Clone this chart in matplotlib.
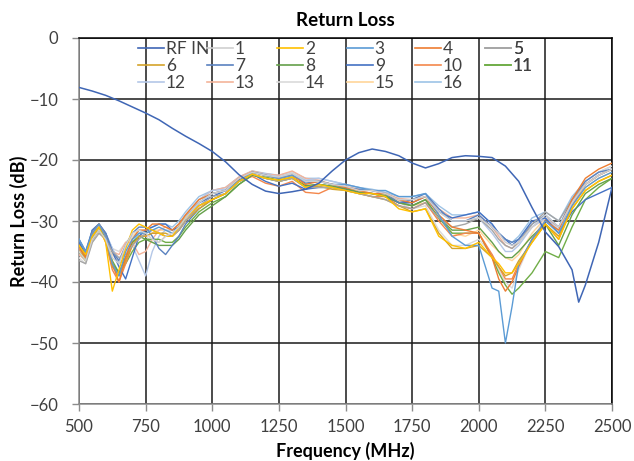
import matplotlib
matplotlib.use("Agg")
import matplotlib.pyplot as plt
from matplotlib.lines import Line2D

plt.rcParams["font.family"] = ["Lato", "DejaVu Sans"]

TEXT = "#404040"
GRID = "#1a1a1a"
AXIS = "#8c8c8c"

# frequency grid for RF IN (MHz) and its return loss (dB)
rf_freq = [500, 550, 600, 650, 700, 750, 800, 850, 900, 950, 1000, 1050, 1100, 1150,
           1200, 1250, 1300, 1350, 1400, 1450, 1500, 1550, 1600, 1650, 1700, 1750,
           1800, 1850, 1900, 1950, 2000, 2050, 2100, 2150, 2200, 2250, 2300, 2350,
           2375, 2400, 2450, 2500]
rf_in = [-8.1, -8.7, -9.4, -10.3, -11.3, -12.3, -13.4, -14.8, -16.1, -17.3, -18.6,
         -20.3, -22.4, -24.0, -25.1, -25.5, -25.2, -24.8, -23.8, -21.8, -20.0, -18.8,
         -18.2, -18.6, -19.3, -20.5, -21.3, -20.6, -19.6, -19.3, -19.4, -19.6, -21.0,
         -23.5, -27.8, -31.8, -34.2, -38.0, -43.3, -40.5, -33.5, -24.5]

# frequency grid for the 16 output ports (MHz)
freq = [500, 525, 550, 575, 600, 625, 650, 675, 700, 725, 750, 775, 800, 825, 850, 875, 900,
        950, 1000, 1050, 1100, 1150, 1200, 1250, 1300, 1350, 1400, 1450, 1500, 1550, 1600,
        1650, 1700, 1750, 1800, 1850, 1900, 1950, 2000, 2050,
        2075, 2100, 2125, 2150, 2200, 2250, 2300, 2350, 2400, 2450, 2500]

p1 = [-35, -36.5, -33, -31.5, -33, -36, -37, -34, -32, -31.5, -32, -33, -33.5, -32.5, -32, -31, -29.5,
      -27, -25.5, -25, -23, -22, -22.5, -22.8, -22.2, -23.5, -23.5, -24, -24.3, -25, -25, -25.5, -26.5, -26.5, -26, -28.5, -30, -30, -29.5, -31,
      -32, -33.5, -34, -33.5, -31, -29, -31, -27, -24, -22.5, -21.5]
p2 = [-34, -35.5, -32.5, -31, -33.5, -41.5, -38, -34.5, -31.5, -30.5, -31, -31.5, -32, -32.5, -32.5, -31, -29.5,
      -27.5, -26.5, -25.5, -23.5, -22.3, -23, -23.3, -22.8, -24.5, -24, -24.5, -25, -25.5, -25.5, -26, -28, -28.5, -28, -32.5, -34, -34.5, -33.5, -36,
      -37, -38.5, -38.5, -37, -33.5, -30.5, -33, -28, -25, -23.5, -22.5]
p3 = [-33, -35, -32, -30.5, -32.5, -37, -39, -35, -33, -32, -32, -31.5, -31, -31.5, -32, -31, -29.5,
      -27, -25.5, -25, -23.5, -22, -22.5, -23, -22.5, -23.5, -23.5, -24, -24, -24.5, -25, -25, -26, -26, -25.5, -29, -32.5, -34, -34, -41,
      -41.5, -50, -44, -37, -33, -30, -32, -27.5, -24.5, -23, -22]
p4 = [-34, -36, -32, -30.5, -32.5, -37, -40, -36, -33, -31.5, -31.5, -30.5, -30.5, -31, -31.5, -30.5, -29,
      -26.5, -25.5, -25, -23, -22, -22.5, -23, -22.5, -24, -23.5, -24, -24.5, -25, -25.5, -25.5, -26.5, -27, -26, -29, -31, -31.5, -32, -36,
      -39.5, -41.5, -40, -37.5, -33, -30, -31.5, -26.5, -23, -21.5, -20.5]
p5 = [-36.5, -37, -33.5, -32, -33, -35, -36, -35.5, -34, -33, -32, -31.5, -32, -32.5, -32.5, -31.5, -30,
      -27.5, -26, -25.5, -23.5, -22.3, -23, -23.5, -23, -24.5, -24.5, -24.5, -25, -25.5, -26, -26.5, -27.5, -28, -27, -29.5, -31, -30.5, -29.5, -31.5,
      -33, -34, -34.5, -33.5, -30.5, -28.5, -30, -26.5, -24, -22.5, -21.5]
p6 = [-35, -36, -33, -31.5, -33, -37.5, -39, -36.5, -34, -32.5, -32.5, -32, -32, -32, -32.5, -31.5, -30,
      -28, -26.5, -25.5, -23.5, -22.3, -23, -23.5, -23, -24.5, -24.3, -24.8, -25, -25.5, -26, -26.5, -27.5, -28.5, -28, -32, -34.5, -34.5, -34, -36,
      -37.5, -39, -38.5, -36.5, -33.5, -30.5, -32.5, -28, -25, -23.5, -22.5]
p7 = [-33, -35, -31.5, -30.5, -32, -35, -36.5, -34, -32, -31, -31, -32.5, -34.5, -35.5, -34, -32.5, -30.5,
      -28, -26.5, -25.5, -23.5, -22, -22.5, -23, -22.5, -23.8, -23.5, -24, -24.5, -24.8, -25, -25.5, -27, -26.5, -25.5, -28, -30, -30, -29, -31,
      -32, -33, -33.5, -33, -30.5, -29, -31, -26.5, -23.5, -22, -21.5]
p8 = [-34, -36, -32.5, -31, -33, -37, -38.5, -36, -33.5, -32.5, -33, -33.5, -34, -34, -34, -33, -31.5,
      -29, -27.5, -26, -24, -22.5, -23, -23.5, -23, -24.2, -24, -24.3, -24.7, -25.3, -25.5, -26, -27, -27.5, -26.5, -29.5, -31.5, -31.5, -31, -33.5,
      -35, -36, -36, -35, -32.5, -30.5, -34, -29, -25.5, -24, -23]
p9 = [-33.5, -35.5, -31.5, -30.5, -32, -35, -37.5, -39.5, -36, -32.5, -31.5, -31, -30.5, -30.5, -31.5, -31, -29.5,
      -27, -26, -25, -23.3, -22.3, -23.5, -24.3, -23.8, -24.8, -24.5, -24.5, -24.8, -25.3, -25.5, -26, -27, -27, -26, -28.5, -29.5, -29, -28.5, -30.5,
      -32, -33, -34, -33, -30, -29.5, -32, -28.5, -26.5, -25.5, -24.5]
p10 = [-34.5, -36, -32.5, -31, -33.5, -38, -40, -37, -34, -32.5, -32.5, -32, -32, -32.5, -32.5, -31.5, -30,
       -27.5, -26.5, -25.5, -23.5, -22.7, -23.8, -24.3, -23.5, -25.3, -25.5, -24.5, -24.8, -25.5, -26, -26, -27.5, -28, -27, -30, -32.5, -32, -32, -35.5,
       -37.5, -39.5, -39.5, -37, -33, -30.5, -33, -27.5, -24, -22.5, -21.5]
p11 = [-35, -36.5, -33, -31.5, -33, -36.5, -38.5, -37, -35, -33.5, -33, -33, -33, -33.5, -33.5, -32.5, -31,
       -28.5, -27, -26, -24, -22.5, -22.8, -23.3, -22.8, -24.3, -24, -24.3, -24.7, -25.3, -25.5, -25.8, -27, -27.5, -26.5, -29.5, -32, -32, -32, -36,
       -38.5, -40.5, -42, -41, -38.5, -35, -36, -31, -26.5, -24.5, -23]
p12 = [-33, -35, -32, -31, -32, -34.5, -36.5, -35, -34, -36.5, -39, -35, -32.5, -31.5, -31.5, -30.5, -29,
       -26.5, -25, -24.8, -23, -22, -22.3, -22.8, -22.3, -23.3, -23, -23.5, -24, -24.5, -25, -25.5, -26.5, -27.5, -26.5, -28.5, -30, -30, -29.5, -32,
       -33.5, -35, -35, -34, -31, -29.5, -31.5, -27, -24, -22.5, -21.5]
p13 = [-35.5, -36.5, -33, -31.5, -33, -35, -35.5, -33.5, -33.5, -35.5, -35, -33, -31.5, -31, -31.5, -30.5, -29,
       -26.5, -25, -24.5, -22.8, -21.8, -22.3, -22.5, -21.8, -23, -23.3, -24, -24.3, -24.8, -25, -25.5, -26.3, -26.5, -26, -28, -29.5, -29.5, -29, -31,
       -32.5, -34, -34.5, -33.5, -31, -29.5, -31, -27, -24, -22.5, -21.5]
p14 = [-36, -37, -33.5, -32, -33, -34.5, -35, -33.5, -32.5, -32, -32.5, -33.5, -33.5, -32.5, -32, -31, -29.5,
       -27, -25.5, -25, -23, -22, -22.5, -22.8, -22, -23.3, -23.5, -24, -24.3, -25, -25.5, -26, -27, -28, -27.5, -31.5, -34, -34, -33, -35.5,
       -38, -40, -41, -38, -33, -29.5, -31, -26.5, -23.5, -22, -21]
p15 = [-34.5, -36, -32.5, -31, -32.5, -35.5, -36.5, -34.5, -32.5, -31.5, -31.5, -31.5, -31.5, -31.5, -32, -31, -29.5,
       -27, -25.5, -25, -23, -22, -22.5, -23, -22.5, -23.5, -23.5, -24, -24.5, -25, -25.5, -25.8, -26.8, -27.5, -27, -29.5, -32, -32.5, -31.5, -34,
       -35, -36, -36.5, -35.5, -32, -29.5, -32, -27.5, -24.5, -23, -22]
p16 = [-33.5, -35, -31.5, -30.5, -32, -34.5, -37, -36, -33.5, -32, -31.5, -31, -30.5, -30.5, -31, -30, -28.5,
       -26, -25, -24.5, -22.8, -21.8, -22.2, -22.5, -22, -23, -23, -23.5, -24, -24.5, -24.8, -25.3, -26, -26, -25.5, -27.5, -29, -29, -28.5, -30.5,
       -32, -33, -33.5, -32.5, -29.5, -28.5, -30, -26, -23.5, -22, -21]

ports = [p1, p2, p3, p4, p5, p6, p7, p8, p9, p10, p11, p12, p13, p14, p15, p16]
labels = ["RF IN"] + [str(i) for i in range(1, 17)]
colors = ["#3F66B5",
          "#cfcfcf", "#FFC000", "#5B9BD5", "#ED7D31", "#A5A5A5", "#D4A32A",
          "#5A82C0", "#65A04A", "#4472C4", "#F4874B", "#70AD47", "#B4C7E7",
          "#F4B49A", "#DADADA", "#FFD699", "#9DC3E6"]

fig = plt.figure(figsize=(6.34, 4.61), dpi=100)
ax = fig.add_axes([79 / 634, 57 / 461, 533 / 634, 366 / 461])

for i in range(16, 0, -1):
    ax.plot(freq, ports[i - 1], color=colors[i], lw=1.0, zorder=3,
            solid_joinstyle="round")
ax.plot(rf_freq, rf_in, color=colors[0], lw=1.1, zorder=4, solid_joinstyle="round")

ax.set_xlim(500, 2500)
ax.set_ylim(-60, 0)
ax.set_xticks(range(500, 2501, 250))
ax.set_yticks(range(-60, 1, 10))
ax.grid(True, color=GRID, lw=1.1)
ax.set_axisbelow(True)
ax.tick_params(axis="both", colors=AXIS, labelcolor=TEXT, labelsize=12, length=5, width=1.0)
ax.tick_params(axis="y", pad=10)
ax.tick_params(axis="x", pad=6)
for side in ("left", "bottom"):
    ax.spines[side].set_color(AXIS)
for side in ("top", "right"):
    ax.spines[side].set_color("black")
for sp in ax.spines.values():
    sp.set_linewidth(1.1)

ax.set_title("Return Loss", fontsize=13.5, fontweight="bold", color="black", pad=9)
ax.set_xlabel("Frequency (MHz)", fontsize=13, fontweight="bold", color="black", labelpad=5)
ax.set_ylabel("Return Loss (dB)", fontsize=13, fontweight="bold", color="black", labelpad=1)

# legend: 6 columns laid out row by row, one legend per column
handles = [Line2D([], [], color=c, lw=1.2) for c in colors]
col_x = [138, 207, 277, 347, 415, 485]
for j, px in enumerate(col_x):
    idx = [k for k in (j, j + 6, j + 12) if k < len(labels)]
    leg = ax.legend([handles[k] for k in idx], [labels[k] for k in idx],
                    loc="upper left", bbox_to_anchor=((px - 79) / 533, 1 - 3 / 366),
                    frameon=False, fontsize=12.5, borderpad=0, borderaxespad=0,
                    handlelength=1.5, handletextpad=0.1, labelspacing=0.05)
    for t in leg.get_texts():
        t.set_color(TEXT)
    ax.add_artist(leg)

fig.savefig("out.png", dpi=100)
